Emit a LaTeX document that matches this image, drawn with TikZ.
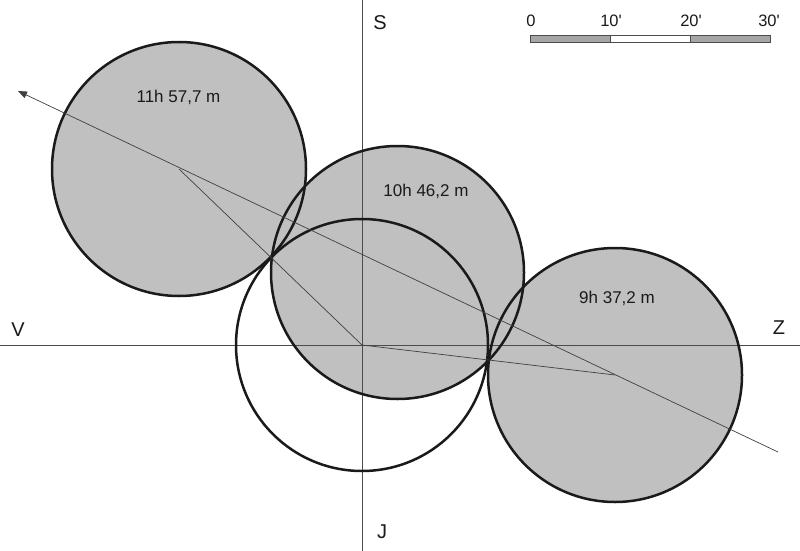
\documentclass[tikz,border=0pt]{standalone}
\usepackage{fontspec}
\setmainfont{Liberation Sans}
\usetikzlibrary{arrows.meta}
\definecolor{moongray}{HTML}{C0C0C0}
\definecolor{bargray}{HTML}{A6A6A6}
\definecolor{ink}{HTML}{1A1A1A}
\begin{document}
\begin{tikzpicture}[x=1pt,y=-1pt,
  disc/.style={circle,inner sep=0pt,outer sep=0pt,minimum size=254pt},
  moonfill/.style={disc,fill=moongray},
  rim/.style={draw=ink,line width=2.5pt},
  thinline/.style={draw=black!75,line width=0.7pt},
  axisline/.style={draw=black!70,line width=0.9pt},
  lab/.style={font=\fontsize{17}{20}\selectfont,text=ink,inner sep=0pt},
  sclab/.style={font=\fontsize{16.5}{20}\selectfont,text=ink,inner sep=0pt},
  axlab/.style={font=\fontsize{20}{24}\selectfont,text=ink,inner sep=0pt},
  barseg/.style={draw=black!70,line width=0.6pt}
]
\useasboundingbox (0,0) rectangle (800,551);
% fills
\node[disc] (sun) at (362,345) {};
\node[moonfill] (m11) at (179,169) {};
\node[moonfill] (m10) at (397.5,272.5) {};
\node[moonfill] (m9) at (615,375) {};
% axes
\coordinate (W) at (0,345);
\coordinate (E) at (800,345);
\coordinate (N) at (362,0);
\coordinate (Sd) at (362,551);
\draw[axisline] (W) -- (E);
\draw[axisline] (N) -- (Sd);
% outlines
\draw[rim] (sun.center) circle[radius=126pt];
\draw[rim] (m11.center) circle[radius=127pt];
\draw[rim] (m10.center) circle[radius=126.5pt];
\draw[rim] (m9.center) circle[radius=127pt];
% path
\coordinate (tail) at (778,452);
\coordinate (head) at (18,91);
\draw[thinline,-{Triangle[length=9pt,width=7pt]}] (tail) -- (head);
\draw[thinline] (m11.center) -- (sun.center) -- (m9.center);
% labels
\node[lab] (l11) at (178.5,97) {11h 57,7 m};
\node[lab] (l10) at (426,191) {10h 46,2 m};
\node[lab] (l9) at (617,298) {9h 37,2 m};
\node[axlab] (lS) at (380,23) {S};
\node[axlab] (lJ) at (382,532) {J};
\node[axlab] (lV) at (18,330) {V};
\node[axlab] (lZ) at (779,328) {Z};
% scale bar
\draw[barseg,fill=bargray] (530,35.5) rectangle (610,42.5);
\draw[barseg,fill=white] (610,35.5) rectangle (690,42.5);
\draw[barseg,fill=bargray] (690,35.5) rectangle (770,42.5);
\node[sclab] (s0) at (531,21) {0};
\node[sclab] (s10) at (611,21) {10\textquotesingle};
\node[sclab] (s20) at (691,21) {20\textquotesingle};
\node[sclab] (s30) at (769,21) {30\textquotesingle};
\end{tikzpicture}
\end{document}
